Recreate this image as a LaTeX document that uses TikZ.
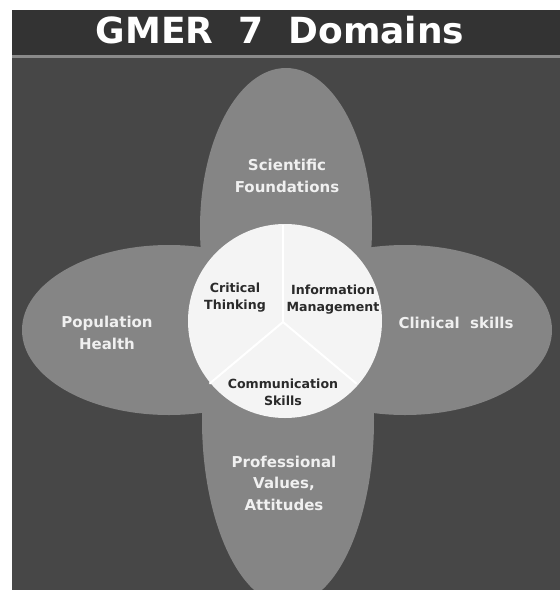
\documentclass[tikz,border=0pt]{standalone}
\usepackage{fontspec}
\setmainfont{DejaVu Sans}
\usetikzlibrary{positioning}
\definecolor{bar}{HTML}{333333}
\definecolor{panel}{HTML}{474747}
\definecolor{petal}{HTML}{858585}
\definecolor{disc}{HTML}{F4F4F4}
\definecolor{ink}{HTML}{2A2A2A}
\definecolor{rule}{HTML}{8A8A8A}
\tikzset{
  dom/.style={font=\fontsize{15}{21.5}\selectfont\bfseries, align=center,
              text=white!94!black, inner sep=0pt},
  core/.style={font=\fontsize{12.6}{17}\selectfont\bfseries, align=center,
               text=ink, inner sep=0pt},
  spoke/.style={draw=white, line width=2pt},
}

\begin{document}
\begin{tikzpicture}[x=1pt, y=-1pt]
    \useasboundingbox (0,0) rectangle (560,590);
    % background and title bar
    \fill[panel] (12,57) rectangle (560,590);
    \fill[bar] (12,10) rectangle (560,55);
    \fill[rule] (12,55) rectangle (560,58);
    \node[font=\fontsize{36}{40}\selectfont\bfseries, text=white, inner sep=0pt,
          anchor=base] (title) at (280,43) {GMER\ \ 7\ \ Domains};
    % four petals
    \begin{scope}
      \clip (12,58) rectangle (560,590);
      \fill[petal] (286,228) ellipse [x radius=86pt, y radius=160pt];
      \fill[petal] (288,420) ellipse [x radius=86pt, y radius=185pt];
      \fill[petal] (169,330) ellipse [x radius=147pt, y radius=85pt];
      \fill[petal] (405,330) ellipse [x radius=147pt, y radius=85pt];
    \end{scope}
    % centre disc (y axis points down, so angles run clockwise)
    \fill[disc] (285,321) circle [radius=97pt];
    \coordinate (hub) at (283,322);
    \draw[spoke] (hub) -- ++(270:97);
    \draw[spoke] (hub) -- ++(140:96);
    \draw[spoke] (hub) -- ++(40:96);
    % labels
    \node[dom] (sci) at (287,176) {Scientific\\Foundations};
    \node[dom] (pop) at (107,333) {Population\\Health};
    \node[dom] (cli) at (456,323) {Clinical\ \ skills};
    \node[dom] (pro) at (284,483) {Professional\\Values,\\Attitudes};
    \node[core] (crit) at (235,298) {Critical\\Thinking};
    \node[core] (info) at (333,300) {Information\\Management};
    \node[core] (comm) at (283,392) {Communication\\Skills};
\end{tikzpicture}
\end{document}
